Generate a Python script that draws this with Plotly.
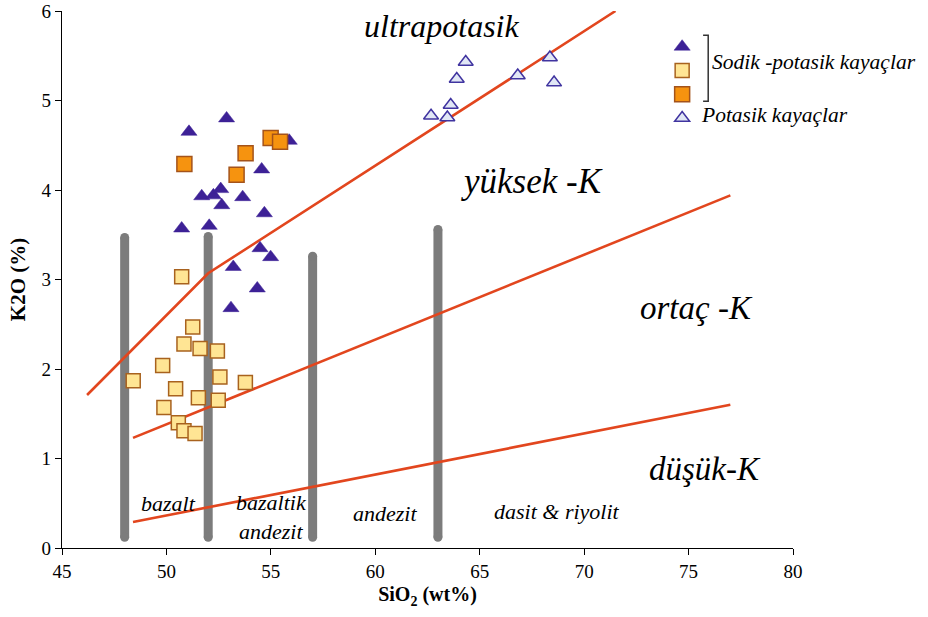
import plotly.graph_objects as go

# ---- data ----
sodik_tri_x = [51.08, 52.88, 55.88, 54.56, 51.69, 52.25, 52.60, 52.65, 53.65, 54.69,
               50.73, 52.05, 54.48, 54.99, 53.20, 54.35, 53.09]
sodik_tri_y = [4.65, 4.80, 4.55, 4.23, 3.93, 3.94, 4.01, 3.83, 3.92, 3.74,
               3.57, 3.60, 3.35, 3.25, 3.14, 2.90, 2.68]

sodik_light_x = [50.73, 51.26, 50.84, 51.61, 52.44, 49.82, 48.41, 52.56, 53.78, 50.44,
                 51.53, 52.48, 49.88, 50.57, 50.84, 51.37]
sodik_light_y = [3.03, 2.47, 2.28, 2.23, 2.20, 2.04, 1.87, 1.91, 1.85, 1.78,
                 1.68, 1.65, 1.57, 1.40, 1.31, 1.28]

sodik_orange_x = [50.86, 53.79, 53.36, 54.99, 55.44]
sodik_orange_y = [4.29, 4.41, 4.17, 4.58, 4.54]

potasik_x = [64.33, 63.90, 63.61, 62.67, 63.45, 66.82, 68.36, 68.56]
potasik_y = [5.43, 5.24, 4.95, 4.83, 4.81, 5.28, 5.48, 5.20]

# boundary lines
line_ultra_x = [46.2, 52.0, 71.5]
line_ultra_y = [1.71, 3.07, 6.0]
line_high_x = [48.4, 77.0]
line_high_y = [1.23, 3.94]
line_low_x = [48.4, 77.0]
line_low_y = [0.29, 1.60]

# rock-type divider bars
bar_x = [48, 52, 57, 63]
bar_bottom = [0.12, 0.12, 0.12, 0.12]
bar_top = [3.47, 3.48, 3.26, 3.56]

# field labels
field_labels = ["ultrapotasik", "yüksek -K", "ortaç -K", "düşük-K"]
field_x = [63.15, 67.5, 75.4, 75.8]
field_y = [5.83, 4.10, 2.68, 0.88]
field_size = [32, 35, 33, 33]

rock_labels = ["bazalt", "bazaltik<br>andezit", "andezit", "dasit &amp; riyolit"]
rock_x = [50.1, 55.05, 60.45, 68.7]
rock_y = [0.50, 0.35, 0.38, 0.41]

legend_names = [" ", " ", " ", " "]
legend_texts = ["Sodik -potasik kayaçlar", "Potasik kayaçlar"]

x_ticks = [45, 50, 55, 60, 65, 70, 75, 80]
y_ticks = [0, 1, 2, 3, 4, 5, 6]

SERIF = "Liberation Serif"
RED = "#E2461E"
GREY = "#7c7c7c"

fig = go.Figure()

for bx, b0, b1 in zip(bar_x, bar_bottom, bar_top):
    fig.add_trace(go.Scatter(x=[bx, bx], y=[b0, b1], mode="lines+markers",
                             line=dict(color=GREY, width=9),
                             marker=dict(color=GREY, size=9, symbol="circle", line=dict(width=0)),
                             showlegend=False, hoverinfo="skip"))

for lx, ly in [(line_ultra_x, line_ultra_y), (line_high_x, line_high_y), (line_low_x, line_low_y)]:
    fig.add_trace(go.Scatter(x=lx, y=ly, mode="lines",
                             line=dict(color=RED, width=2.6),
                             showlegend=False, hoverinfo="skip"))

fig.add_trace(go.Scatter(x=sodik_tri_x, y=sodik_tri_y, mode="markers", name=legend_names[0],
                         marker=dict(symbol="triangle-up", size=14, color="#3D2196",
                                     line=dict(color="#3D2196", width=0.5))))
fig.add_trace(go.Scatter(x=sodik_light_x, y=sodik_light_y, mode="markers", name=legend_names[1],
                         marker=dict(symbol="square", size=14, color="#FFE594",
                                     line=dict(color="#A8621E", width=1.5))))
fig.add_trace(go.Scatter(x=sodik_orange_x, y=sodik_orange_y, mode="markers", name=legend_names[2],
                         marker=dict(symbol="square", size=15, color="#F6930F",
                                     line=dict(color="#A4531A", width=1.5))))
fig.add_trace(go.Scatter(x=potasik_x, y=potasik_y, mode="markers", name=legend_names[3],
                         marker=dict(symbol="triangle-up", size=13, color="#E1E7F5",
                                     line=dict(color="#4034A0", width=1.5))))

for t, x, y, s in zip(field_labels, field_x, field_y, field_size):
    fig.add_annotation(x=x, y=y, text=t, showarrow=False, xanchor="center", yanchor="middle",
                       font=dict(family=SERIF, size=s, color="black", style="italic"))

for t, x, y in zip(rock_labels, rock_x, rock_y):
    fig.add_annotation(x=x, y=y, text=t, showarrow=False, xanchor="center", yanchor="middle",
                       font=dict(family=SERIF, size=22, color="black", style="italic"))

# legend texts and bracket
fig.add_annotation(x=0.8865, y=0.905, xref="paper", yref="paper", text=legend_texts[0],
                   showarrow=False, xanchor="left", yanchor="middle",
                   font=dict(family=SERIF, size=21.5, color="black", style="italic"))
fig.add_annotation(x=0.871, y=0.806, xref="paper", yref="paper", text=legend_texts[1],
                   showarrow=False, xanchor="left", yanchor="middle",
                   font=dict(family=SERIF, size=21.5, color="black", style="italic"))
fig.add_shape(type="path", xref="paper", yref="paper",
              path="M 0.877,0.955 L 0.884,0.955 L 0.884,0.832 L 0.877,0.832",
              line=dict(color="#333333", width=1.5))

fig.update_layout(
    width=928, height=617,
    margin=dict(l=62, r=135, t=11, b=69),
    paper_bgcolor="white", plot_bgcolor="white",
    font=dict(family=SERIF, color="black", size=16),
    showlegend=True,
    legend=dict(x=0.821, y=0.965, xanchor="left", yanchor="top",
                bgcolor="rgba(0,0,0,0)",
                font=dict(family=SERIF, size=16, color="black"),
                tracegroupgap=0, itemsizing="trace"),
    xaxis=dict(range=[45, 80], tickvals=x_ticks, showgrid=False, zeroline=False,
               automargin=False,
               showline=True, linecolor="black", linewidth=1.3, ticks="outside",
               ticklen=6, tickcolor="black", tickfont=dict(family=SERIF, size=19),
               title=dict(text="SiO<sub>2</sub> (wt%)", standoff=6,
                          font=dict(family=SERIF, size=20, weight="bold"))),
    yaxis=dict(range=[0, 6], tickvals=y_ticks, showgrid=False, zeroline=False,
               automargin=False,
               showline=True, linecolor="black", linewidth=1.3, ticks="outside",
               ticklen=6, tickcolor="black", tickfont=dict(family=SERIF, size=19),
               title=dict(text="K2O (%)", standoff=10,
                          font=dict(family=SERIF, size=21, weight="bold"))),
)

fig.write_html("out.html")
